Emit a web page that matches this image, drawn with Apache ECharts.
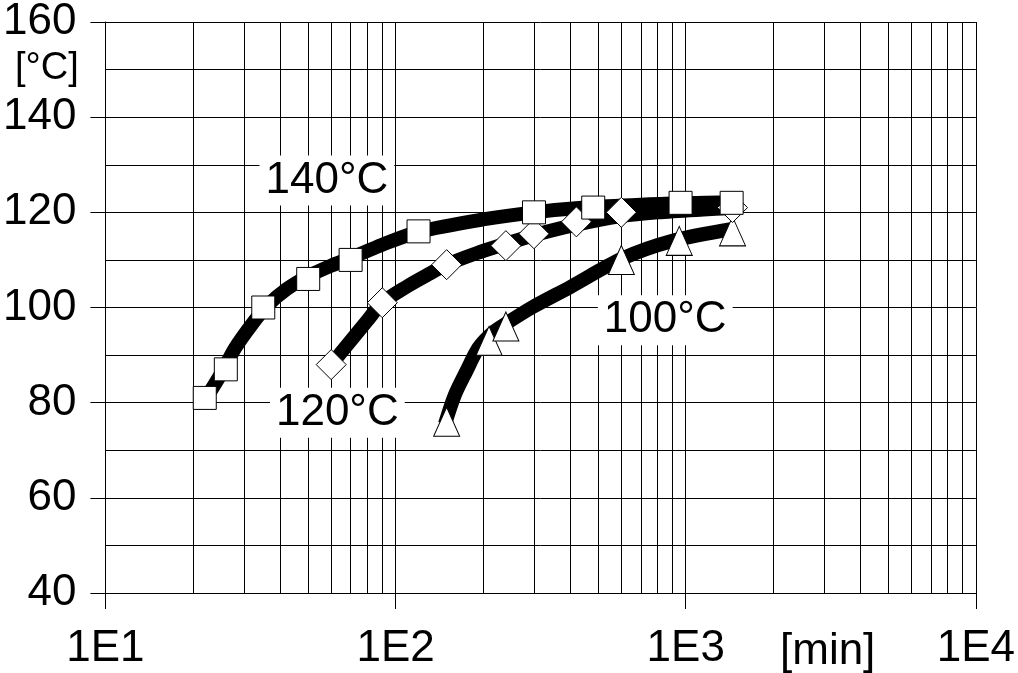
<!DOCTYPE html>
<html>
<head>
<meta charset="utf-8">
<script src="https://cdn.jsdelivr.net/npm/echarts@6/dist/echarts.min.js"></script>
<style>
  html, body { margin: 0; padding: 0; background: #fff; }
  #chart { width: 1018px; height: 673px; }
</style>
</head>
<body>
<div id="chart"></div>
<script>
// Curing temperature vs. time for three oven temperatures (log time axis)

// Measured points
const t140 = [22, 26, 35, 50, 70, 120, 300, 480, 960, 1440];
const v140 = [81, 87, 100, 106, 110, 116, 120, 121, 122, 122];

const t120 = [60, 90, 150, 240, 300, 420, 600, 1450];
const v120 = [88, 101, 109, 113, 115.5, 118, 120, 121];

const t100 = [150, 210, 240, 600, 950, 1450];
const v100 = [76, 93, 96, 110, 114, 116];

// Fitted trend curves drawn as thick bands behind the points
const fit140T = [22, 25, 28, 32, 36, 42, 50, 60, 70, 90, 120, 200, 300, 450, 700, 1000, 1450];
const fit140V = [80.5, 86, 91.5, 96.5, 100.3, 103.8, 106.6, 108.8, 110.4, 113.2, 115.9, 118.5, 120, 121, 121.6, 121.9, 122.1];

const fit120T = [60, 70, 80, 90, 110, 130, 150, 190, 240, 300, 420, 600, 800, 1150, 1450];
const fit120V = [88, 93, 97.3, 101, 104.5, 107, 109, 111.4, 113.4, 115.2, 117.4, 119.2, 120, 120.6, 120.9];

const fit100T = [148, 160, 175, 193, 215, 240, 295, 400, 600, 900, 1450];
const fit100V = [75.5, 81.6, 86.5, 91.5, 94.6, 96.6, 100, 104.3, 110.2, 114, 116.5];

// Intermediate log-grid lines (2..9 of each decade)
const minorTimes = [20, 30, 40, 50, 60, 70, 80, 90,
                    200, 300, 400, 500, 600, 700, 800, 900,
                    2000, 3000, 4000, 5000, 6000, 7000, 8000, 9000];

// Curve captions and where they sit (time, temperature)
const curveLabels = ['140°C', '120°C', '100°C'];
const labelTimes = [58, 63, 850];
const labelTemps = [126.7, 77.9, 97.3];

const FONT = '"Liberation Sans", Arial, Helvetica, sans-serif';

function pairs(xs, ys) { return xs.map((x, i) => [x, ys[i]]); }

const chart = echarts.init(document.getElementById('chart'), null, { renderer: 'canvas' });

const black = '#000';
const bandSeries = (name, xs, ys) => ({
  name: name + ' fit',
  type: 'line',
  data: pairs(xs, ys),
  showSymbol: false,
  symbol: 'none',
  smooth: 0.3,
  lineStyle: { color: black, width: 14, cap: 'butt', join: 'round' },
  z: 3,
  silent: true
});
const markerSeries = (name, xs, ys, symbol, size, z) => ({
  name: name,
  type: 'scatter',
  data: pairs(xs, ys),
  symbol: symbol,
  symbolSize: size,
  itemStyle: { color: '#fff', borderColor: black, borderWidth: 1, opacity: 1 },
  z: z,
  silent: true
});

const option = {
  animation: false,
  backgroundColor: '#fff',
  textStyle: { fontFamily: FONT },
  grid: { left: 101, right: 42, top: 17, bottom: 80 },
  xAxis: [
    {
      type: 'log', logBase: 10, min: 10, max: 10000,
      axisLine: { show: true, lineStyle: { color: black, width: 1 } },
      axisTick: { show: true, inside: false, length: 16, lineStyle: { color: black } },
      axisLabel: {
        fontSize: 44, color: black, margin: 34, fontFamily: FONT,
        formatter: v => '1E' + Math.round(Math.log10(v))
      },
      splitLine: { show: true, lineStyle: { color: black, width: 1 } }
    },
    {
      type: 'log', logBase: 10, min: 10, max: 10000, position: 'bottom',
      axisLine: { show: false },
      axisTick: { show: true, inside: true, length: 17, lineStyle: { color: black, width: 1 } },
      axisLabel: { show: false },
      splitLine: { show: false }
    }
  ],
  yAxis: [
    {
      type: 'value', min: 40, max: 160, interval: 10, position: 'left',
      axisLine: { show: true, lineStyle: { color: black, width: 1 } },
      axisTick: { show: false },
      axisLabel: { show: false },
      splitLine: { show: true, lineStyle: { color: black, width: 1 } }
    },
    {
      type: 'value', min: 40, max: 160, interval: 20, position: 'left',
      axisLine: { show: false },
      axisTick: { show: true, inside: false, length: 15, lineStyle: { color: black } },
      axisLabel: { fontSize: 44, color: black, margin: 29, fontFamily: FONT },
      splitLine: { show: false }
    },
    {
      type: 'value', min: 40, max: 160, interval: 20, position: 'left',
      axisLine: { show: false },
      axisTick: { show: true, inside: true, length: 17, lineStyle: { color: black } },
      axisLabel: { show: false },
      splitLine: { show: false }
    }
  ],
  graphic: [
    { type: 'text', left: 15, top: 50, style: { text: '[°C]', fontSize: 38, fontFamily: FONT, fill: black } },
    { type: 'text', left: 780, top: 630, style: { text: '[min]', fontSize: 44, fontFamily: FONT, fill: black } }
  ],
  series: [
    {
      name: 'grid minor',
      type: 'line',
      data: [],
      silent: true,
      markLine: {
        silent: true,
        symbol: ['none', 'none'],
        label: { show: false },
        z: 1,
        lineStyle: { color: black, width: 1, type: 'solid' },
        data: minorTimes.map(t => ({ xAxis: t }))
      }
    },
    {
      name: 'captions',
      type: 'scatter',
      data: labelTimes.map((t, i) => ({ value: [t, labelTemps[i]], name: curveLabels[i] })),
      symbol: 'rect',
      symbolSize: 1,
      itemStyle: { color: '#fff', opacity: 1 },
      z: 2,
      silent: true,
      label: {
        show: true, position: 'inside', formatter: p => p.name,
        fontSize: 44, fontFamily: FONT, color: black, opacity: 1,
        backgroundColor: '#fff', padding: [4, 6, 2, 6]
      }
    },
    bandSeries('100°C', fit100T, fit100V),
    bandSeries('120°C', fit120T, fit120V),
    bandSeries('140°C', fit140T, fit140V),
    markerSeries('100°C', t100, v100, 'triangle', [26, 29], 4),
    markerSeries('120°C', t120, v120, 'diamond', 30, 5),
    markerSeries('140°C', t140, v140, 'rect', 23, 6)
  ]
};

chart.setOption(option);
</script>
</body>
</html>
